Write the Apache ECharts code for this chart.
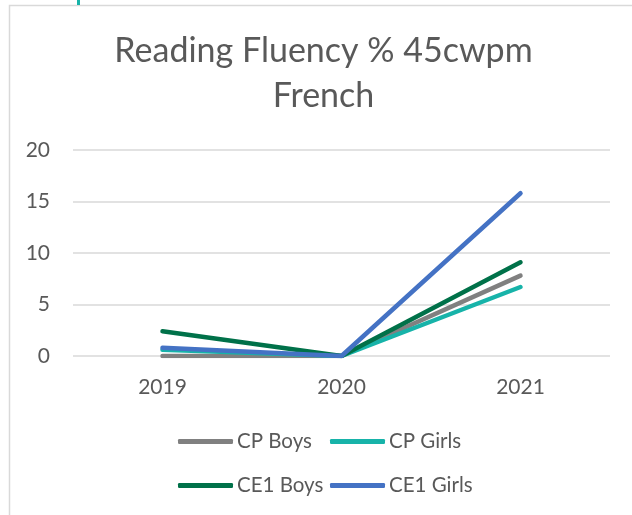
<!DOCTYPE html>
<html>
<head>
<meta charset="utf-8">
<script src="https://cdn.jsdelivr.net/npm/echarts@6/dist/echarts.min.js"></script>
<style>
  html, body { margin: 0; padding: 0; background: #fff; }
  #chart { width: 632px; height: 515px; }
</style>
</head>
<body>
<div id="chart"></div>
<script>
// Reading fluency (% of pupils at 45 correct words per minute), French
const years = ['2019', '2020', '2021'];
const cpBoys = [0, 0, 7.8];
const cpGirls = [0.6, 0, 6.7];
const ce1Boys = [2.4, 0, 9.1];
const ce1Girls = [0.8, 0, 15.8];
const yTicks = [0, 5, 10, 15, 20];
const titleText = 'Reading Fluency % 45cwpm\nFrench';

const FONT = 'Lato';
const TEXT = '#595959';

const seriesDefs = [
  { name: 'CP Boys', data: cpBoys, color: '#808080' },
  { name: 'CP Girls', data: cpGirls, color: '#17b3a9' },
  { name: 'CE1 Boys', data: ce1Boys, color: '#007149' },
  { name: 'CE1 Girls', data: ce1Girls, color: '#4472c4' }
];

// two rows, two aligned columns
const legendPos = [
  { left: 178, top: 431 },
  { left: 330, top: 431 },
  { left: 178, top: 475 },
  { left: 330, top: 475 }
];

const chart = echarts.init(document.getElementById('chart'), null, { renderer: 'canvas' });

chart.setOption({
  animation: false,
  backgroundColor: '#fff',
  graphic: [
    { type: 'rect', shape: { x: 9.5, y: 5.5, width: 700, height: 600 }, style: { fill: 'none', stroke: '#d9d9d9', lineWidth: 1.5 }, silent: true },
    { type: 'rect', shape: { x: 77, y: 0, width: 3, height: 5 }, style: { fill: '#17b3a9' }, silent: true },
    {
      type: 'text', x: 323.5, y: 29, silent: true,
      style: {
        text: titleText, fill: TEXT, fontFamily: FONT, fontSize: 34, fontWeight: 'normal',
        lineHeight: 45, align: 'center', verticalAlign: 'top'
      }
    }
  ],
  legend: seriesDefs.map((s, i) => ({
    data: [s.name],
    left: legendPos[i].left,
    top: legendPos[i].top,
    icon: 'roundRect',
    itemWidth: 55,
    itemHeight: 5,
    itemGap: 0,
    padding: 0,
    textStyle: { fontFamily: FONT, fontSize: 20.5, color: TEXT, padding: [0, 0, 0, -1] }
  })),
  grid: { left: 73, right: 22, top: 150, bottom: 159 },
  xAxis: {
    type: 'category',
    data: years,
    boundaryGap: true,
    axisLine: { show: false },
    axisTick: { show: false },
    axisLabel: { fontFamily: FONT, fontSize: 21, color: TEXT, margin: 21 }
  },
  yAxis: {
    type: 'value',
    min: yTicks[0],
    max: yTicks[yTicks.length - 1],
    interval: yTicks[1] - yTicks[0],
    axisLine: { show: false },
    axisTick: { show: false },
    axisLabel: { fontFamily: FONT, fontSize: 21, color: TEXT, margin: 23 },
    splitLine: { lineStyle: { color: '#d9d9d9', width: 1.5 } }
  },
  series: seriesDefs.map(s => ({
    name: s.name,
    type: 'line',
    data: s.data,
    symbol: 'none',
    color: s.color,
    lineStyle: { color: s.color, width: 4.5, cap: 'round', join: 'round' },
    itemStyle: { color: s.color }
  }))
});
</script>
</body>
</html>
